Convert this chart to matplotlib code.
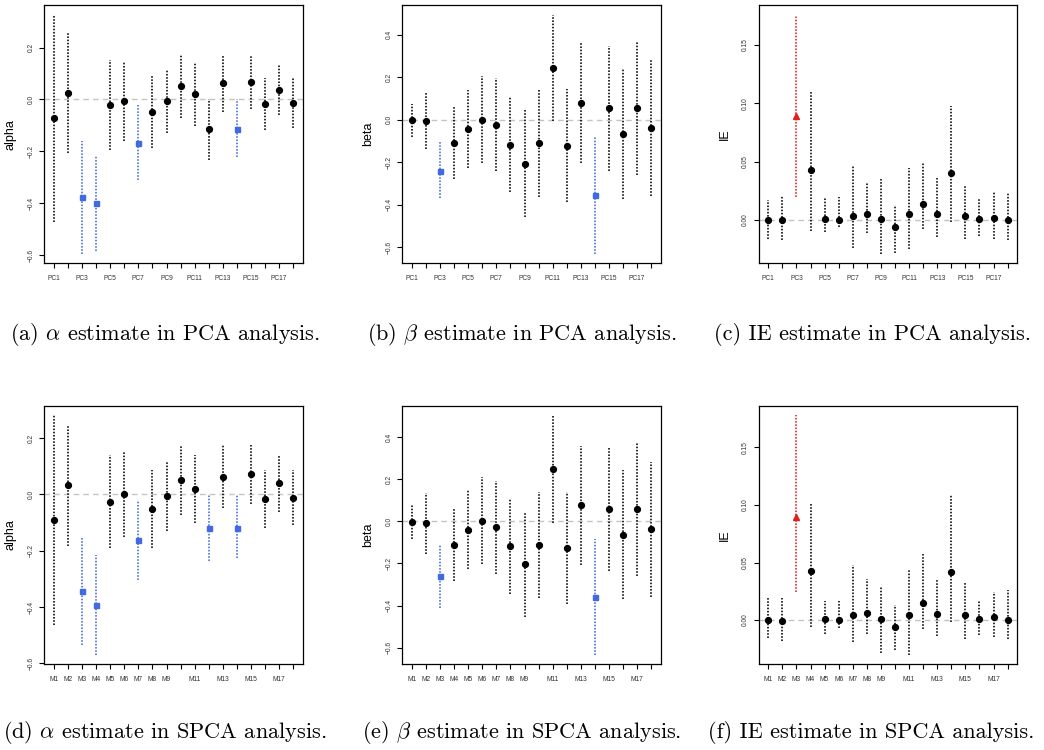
import matplotlib.pyplot as plt

plt.rcParams['mathtext.fontset'] = 'cm'

pca_labels = ["PC1", "", "PC3", "", "PC5", "", "PC7", "", "PC9", "",
              "PC11", "", "PC13", "", "PC15", "", "PC17", ""]
spca_labels = ["M1", "M2", "M3", "M4", "M5", "M6", "M7", "M8", "M9", "",
               "M11", "", "M13", "", "M15", "", "M17", ""]

# (a) alpha, PCA
pca_alpha_est = [-0.072, 0.026, -0.378, -0.401, -0.022, -0.006, -0.167, -0.049, -0.006,
                 0.051, 0.019, -0.115, 0.064, -0.115, 0.068, -0.017, 0.038, -0.013]
pca_alpha_hi = [0.327, 0.256, -0.160, -0.218, 0.151, 0.146, -0.023, 0.090, 0.115,
                0.173, 0.141, 0.000, 0.173, 0.000, 0.173, 0.083, 0.138, 0.083]
pca_alpha_lo = [-0.472, -0.205, -0.596, -0.583, -0.195, -0.160, -0.312, -0.186, -0.131,
                -0.071, -0.103, -0.235, -0.049, -0.224, -0.038, -0.119, -0.062, -0.109]
pca_alpha_sig = [3, 4, 7, 14]

# (b) beta, PCA
pca_beta_est = [-0.003, -0.006, -0.239, -0.108, -0.044, 0.000, -0.023, -0.119, -0.206,
                -0.111, 0.244, -0.123, 0.080, -0.356, 0.053, -0.066, 0.056, -0.038]
pca_beta_hi = [0.075, 0.127, -0.103, 0.064, 0.138, 0.205, 0.194, 0.108, 0.044,
               0.142, 0.494, 0.142, 0.361, -0.081, 0.345, 0.241, 0.372, 0.283]
pca_beta_lo = [-0.081, -0.139, -0.370, -0.280, -0.225, -0.202, -0.241, -0.342, -0.456,
               -0.363, -0.006, -0.389, -0.202, -0.631, -0.241, -0.373, -0.259, -0.358]
pca_beta_sig = [3, 14]

# (c) IE, PCA
pca_ie_est = [0.0, -0.0003, 0.089, 0.0425, 0.0006, 0.0, 0.0037, 0.0054, 0.0009,
              -0.006, 0.005, 0.014, 0.005, 0.040, 0.0037, 0.0009, 0.002, 0.0]
pca_ie_hi = [0.0168, 0.021, 0.176, 0.110, 0.0194, 0.0194, 0.046, 0.033, 0.035,
             0.013, 0.045, 0.050, 0.036, 0.0975, 0.0288, 0.0185, 0.024, 0.0234]
pca_ie_lo = [-0.016, -0.017, 0.0197, -0.0094, -0.010, -0.006, -0.024, -0.011, -0.029,
             -0.028, -0.0245, -0.0074, -0.0145, -0.0017, -0.016, -0.014, -0.016, -0.017]
pca_ie_sig = [3]

# (d) alpha, SPCA
spca_alpha_est = [-0.092, 0.033, -0.343, -0.393, -0.027, 0.000, -0.163, -0.052, -0.006,
                  0.051, 0.019, -0.118, 0.063, -0.118, 0.071, -0.018, 0.039, -0.012]
spca_alpha_hi = [0.281, 0.245, -0.150, -0.215, 0.139, 0.153, -0.020, 0.086, 0.118,
                 0.175, 0.139, 0.000, 0.175, 0.000, 0.177, 0.086, 0.139, 0.086]
spca_alpha_lo = [-0.465, -0.182, -0.536, -0.569, -0.191, -0.152, -0.303, -0.189, -0.129,
                 -0.073, -0.100, -0.235, -0.047, -0.227, -0.035, -0.118, -0.061, -0.109]
spca_alpha_sig = [3, 4, 7, 12, 14]

# (e) beta, SPCA
spca_beta_est = [-0.005, -0.008, -0.261, -0.111, -0.041, 0.003, -0.028, -0.117, -0.204,
                 -0.112, 0.250, -0.126, 0.076, -0.360, 0.058, -0.063, 0.057, -0.038]
spca_beta_hi = [0.082, 0.137, -0.112, 0.062, 0.148, 0.210, 0.193, 0.107, 0.046,
                0.139, 0.504, 0.139, 0.359, -0.084, 0.352, 0.242, 0.370, 0.283]
spca_beta_lo = [-0.085, -0.156, -0.412, -0.283, -0.227, -0.201, -0.248, -0.343, -0.452,
                -0.365, -0.006, -0.392, -0.207, -0.633, -0.234, -0.370, -0.258, -0.357]
spca_beta_sig = [3, 14]

# (f) IE, SPCA
spca_ie_est = [0.0, -0.0006, 0.090, 0.043, 0.0012, 0.0, 0.0044, 0.0061, 0.0012,
               -0.0058, 0.0046, 0.0148, 0.0049, 0.0415, 0.0041, 0.0009, 0.0023, 0.0]
spca_ie_hi = [0.0194, 0.0189, 0.178, 0.101, 0.0165, 0.0165, 0.048, 0.0354, 0.0296,
              0.013, 0.0447, 0.0574, 0.0354, 0.1088, 0.033, 0.0168, 0.024, 0.026]
spca_ie_lo = [-0.0154, -0.018, 0.024, -0.0064, -0.0119, -0.0067, -0.019, -0.0119, -0.029,
              -0.026, -0.030, -0.0075, -0.0136, -0.002, -0.016, -0.013, -0.0145, -0.0168]
spca_ie_sig = [3]

alpha_ticks = [-0.6, -0.4, -0.2, 0.0, 0.2]
beta_ticks = [-0.6, -0.4, -0.2, 0.0, 0.2, 0.4]
ie_ticks = [0.0, 0.05, 0.10, 0.15]

W, H = 1044, 750
fig = plt.figure(figsize=(W / 100, H / 100), dpi=100)


def panel(left, top, est, lo, hi, sig, labels, yticks, fmt, ylabel, sig_marker, sig_color):
    ax = fig.add_axes([left / W, 1 - (top + 258.5) / H, 258.5 / W, 258.5 / H])
    x = list(range(1, len(est) + 1))
    for i in range(len(est)):
        s = (i + 1) in sig
        col = sig_color if s else 'black'
        ax.vlines(x[i], lo[i], hi[i], colors=col, linestyles=(0, (1, 1.0)), lw=1.15)
        if s:
            ax.plot(x[i], est[i], marker=sig_marker, color=sig_color, ms=4.2 if sig_marker == '^' else 3.6,
                    ls='none', zorder=3)
        else:
            ax.plot(x[i], est[i], marker='o', color='black', ms=4.2, ls='none', zorder=3)
    ax.axhline(0, color='#c4c4c4', ls=(0, (4, 3)), lw=1, zorder=0)
    ax.margins(0.04)
    ax.set_xticks(x)
    ax.set_xticklabels(labels, fontsize=4.8, family='Liberation Sans', color='#333333')
    ax.set_yticks(yticks)
    ax.set_yticklabels([fmt.format(v).replace('-', '\u2212') for v in yticks], fontsize=4.8,
                       rotation=90, va='center', family='Liberation Sans', color='#333333')
    ax.tick_params(direction='out', length=3.6, width=0.8, pad=3.5)
    ax.tick_params(axis='x', pad=5)
    ax.set_ylabel(ylabel, fontsize=9, family='Liberation Sans', labelpad=8)
    for sp in ax.spines.values():
        sp.set_linewidth(0.9)
    return ax


blue = '#4169e1'
red = '#e0201b'

panel(44.3, 5, pca_alpha_est, pca_alpha_lo, pca_alpha_hi, pca_alpha_sig, pca_labels,
      alpha_ticks, '{:.1f}', 'alpha', 's', blue)
panel(402.3, 5, pca_beta_est, pca_beta_lo, pca_beta_hi, pca_beta_sig, pca_labels,
      beta_ticks, '{:.1f}', 'beta', 's', blue)
panel(758.7, 5, pca_ie_est, pca_ie_lo, pca_ie_hi, pca_ie_sig, pca_labels,
      ie_ticks, '{:.2f}', 'IE', '^', red)
panel(44.3, 405.7, spca_alpha_est, spca_alpha_lo, spca_alpha_hi, spca_alpha_sig, spca_labels,
      alpha_ticks, '{:.1f}', 'alpha', 's', blue)
panel(402.3, 405.7, spca_beta_est, spca_beta_lo, spca_beta_hi, spca_beta_sig, spca_labels,
      beta_ticks, '{:.1f}', 'beta', 's', blue)
panel(758.7, 405.7, spca_ie_est, spca_ie_lo, spca_ie_hi, spca_ie_sig, spca_labels,
      ie_ticks, '{:.2f}', 'IE', '^', red)

captions = [
    (165, 335, r'(a) $\alpha$ estimate in PCA analysis.'),
    (522, 335, r'(b) $\beta$ estimate in PCA analysis.'),
    (872, 335, r'(c) IE estimate in PCA analysis.'),
    (165, 733, r'(d) $\alpha$ estimate in SPCA analysis.'),
    (522, 733, r'(e) $\beta$ estimate in SPCA analysis.'),
    (871, 733, r'(f) IE estimate in SPCA analysis.'),
]
for cx, cy, txt in captions:
    fig.text(cx / W, 1 - cy / H, txt, ha='center', va='center', fontsize=16, family='cmr10')

fig.savefig('out.png', dpi=100)
